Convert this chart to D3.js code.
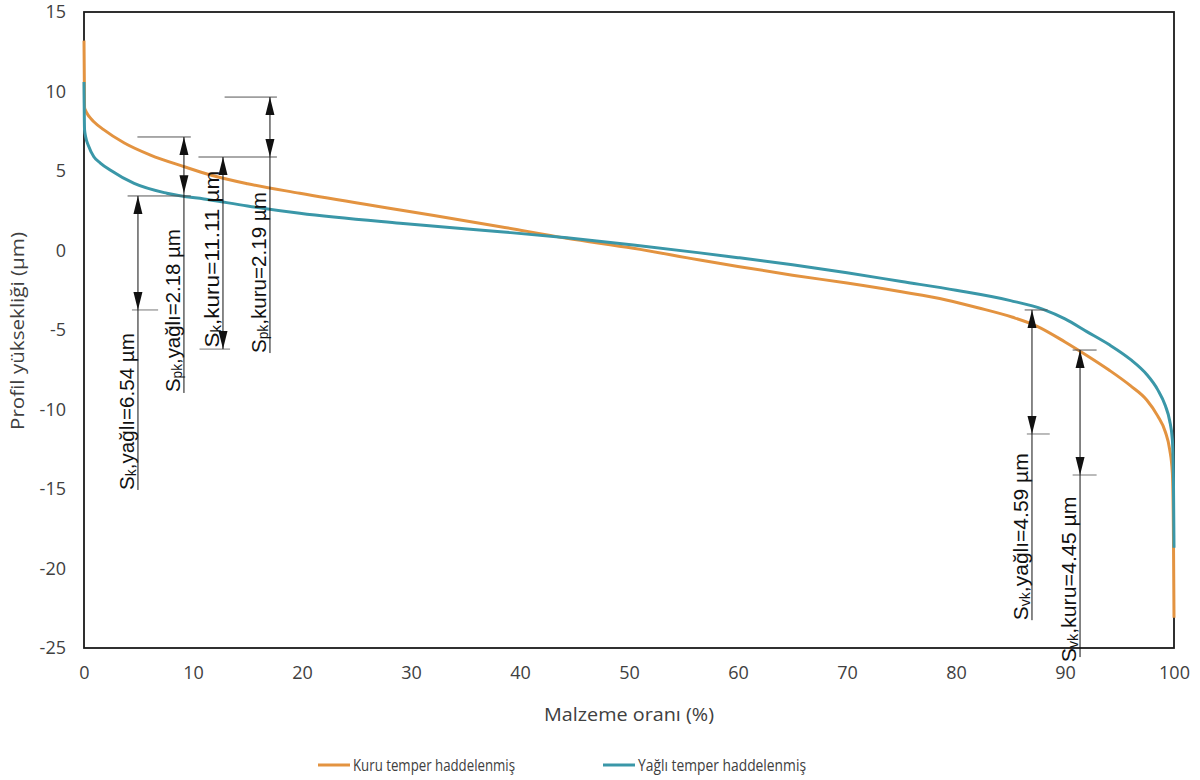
<!DOCTYPE html>
<html>
<head>
<meta charset="utf-8">
<script src="https://cdn.jsdelivr.net/npm/d3@7"></script>
<style>
  body { margin: 0; background: #fff; }
  .tick text { font-family: "Open Sans", sans-serif; font-size: 18px; fill: #404040; }
</style>
</head>
<body>
<div class="chart"></div>
<script>
// Material ratio curves (%, µm)
const kuruX = [0, 0.05, 0.15, 0.3, 0.5, 0.9, 1.8, 3.7, 6.1, 9.2, 11.6, 15, 19.8, 29, 38.2, 44.3, 50.4, 56.5, 60, 65, 70, 75, 79.1, 82, 85.2, 87.4, 90, 92, 94, 96, 97.5, 98.5, 99.2, 99.6, 99.85, 99.95, 100];
const kuruY = [13.2, 9.0, 8.8, 8.6, 8.4, 8.1, 7.6, 6.76, 6.0, 5.27, 4.75, 4.2, 3.6, 2.55, 1.5, 0.77, 0.14, -0.6, -1.0, -1.55, -2.05, -2.6, -3.11, -3.6, -4.2, -4.75, -5.75, -6.6, -7.5, -8.5, -9.4, -10.4, -11.4, -12.5, -14.0, -18, -23.1];
const yagliX = [0, 0.05, 0.15, 0.4, 0.9, 1.5, 2.4, 4.6, 7.6, 11.6, 15, 19.8, 29, 38.2, 44.3, 50.4, 56.5, 60, 65, 70, 75, 80, 85, 88, 90, 92, 94, 96, 97.5, 98.5, 99.2, 99.6, 99.85, 99.95, 100];
const yagliY = [10.6, 7.6, 7.16, 6.6, 5.9, 5.5, 5.06, 4.22, 3.6, 3.18, 2.8, 2.34, 1.71, 1.18, 0.8, 0.35, -0.15, -0.45, -0.9, -1.4, -1.95, -2.5, -3.15, -3.7, -4.3, -5.1, -5.9, -6.85, -7.8, -8.75, -9.75, -10.7, -11.9, -14.5, -18.7];

const xTicks = [0, 10, 20, 30, 40, 50, 60, 70, 80, 90, 100];
const yTicks = [15, 10, 5, 0, -5, -10, -15, -20, -25];

const seriesNames = ["Kuru temper haddelenmiş", "Yağlı temper haddelenmiş"];
const seriesColors = ["#e39340", "#3a97a8"];

// dimension annotations in data units (x in %, heights in µm)
const dims = [
  {sub: "k",  rest: ",yağlı=6.54 µm", x: 4.95,  top: 3.43,  bottom: -3.74,  end: -15.06, label: -15.06, topTick: [4.0, 9.8],  botTick: [4.4, 6.8],  len: 157},
  {sub: "pk", rest: ",yağlı=2.18 µm", x: 9.17,  top: 7.14,  bottom: 3.6,    end: -8.96,  label: -8.9,   topTick: [4.9, 9.8],  botTick: null,        len: 163},
  {sub: "k",  rest: ",kuru=11.11 µm", x: 12.75, top: 5.88,  bottom: -6.2,   end: -6.2,   label: -6.1,   topTick: [10.5, 17.7], botTick: [10.6, 13.4], len: 177},
  {sub: "pk", rest: ",kuru=2.19 µm",  x: 17.06, top: 9.65,  bottom: 5.88,   end: -6.45,  label: -6.45,  topTick: [12.9, 17.7], botTick: null,        len: 161},
  {sub: "vk", rest: ",yağlı=4.59 µm", x: 86.97, top: -3.74, bottom: -11.54, end: -23.25, label: -23.25, topTick: [86.3, 88.4], botTick: [86.5, 88.6], len: 167},
  {sub: "vk", rest: ",kuru=4.45 µm",  x: 91.38, top: -6.26, bottom: -14.12, end: -25.57, label: -25.9,  topTick: [90.7, 92.9], botTick: [90.7, 92.9], len: 166}
];

const margin = {top: 12, left: 84, right: 26, bottom: 132};
const width = 1200 - margin.left - margin.right;
const height = 780 - margin.top - margin.bottom;

const svg = d3.select(".chart").append("svg")
    .attr("width", 1200)
    .attr("height", 780);
const g = svg.append("g")
    .attr("transform", `translate(${margin.left},${margin.top})`);

const xScale = d3.scaleLinear().domain([0, 100]).range([0, width]);
const yScale = d3.scaleLinear().domain([-25, 15]).range([height, 0]);

// axes (labels only, no tick marks), plain hyphen for negatives
const xAxis = d3.axisBottom(xScale).tickValues(xTicks).tickSize(0).tickPadding(18).tickFormat(d => String(d));
g.append("g")
    .attr("class", "axis x-axis")
    .attr("transform", `translate(0,${height})`)
    .call(xAxis)
    .call(a => a.select(".domain").remove());

const yAxis = d3.axisLeft(yScale).tickValues(yTicks).tickSize(0).tickPadding(18).tickFormat(d => String(d));
g.append("g")
    .attr("class", "axis y-axis")
    .call(yAxis)
    .call(a => a.select(".domain").remove());

// frame
g.append("rect")
    .attr("x", 0).attr("y", 0)
    .attr("width", width).attr("height", height)
    .attr("fill", "none")
    .attr("stroke", "#1a1a1a")
    .attr("stroke-width", 1.8);

// curves
const line = d3.line()
    .x(d => xScale(d[0]))
    .y(d => yScale(d[1]))
    .curve(d3.curveMonotoneX);

const series = [
  kuruX.map((x, i) => [x, kuruY[i]]),
  yagliX.map((x, i) => [x, yagliY[i]])
];

g.selectAll(".curve")
    .data(series)
    .enter()
    .append("path")
    .attr("class", "curve")
    .attr("d", line)
    .attr("fill", "none")
    .attr("stroke", (d, i) => seriesColors[i])
    .attr("stroke-width", 3);

// dimension lines
const ann = g.append("g").attr("class", "dims");
const arrowLen = 18, arrowW = 4.5;

dims.forEach(d => {
    const px = xScale(d.x);
    const yt = yScale(d.top), yb = yScale(d.bottom), ye = yScale(d.end);

    ann.append("line")
        .attr("x1", xScale(d.topTick[0])).attr("x2", xScale(d.topTick[1]))
        .attr("y1", yt).attr("y2", yt)
        .attr("stroke", "#555").attr("stroke-width", 1);
    if (d.botTick) {
        ann.append("line")
            .attr("x1", xScale(d.botTick[0])).attr("x2", xScale(d.botTick[1]))
            .attr("y1", yb).attr("y2", yb)
            .attr("stroke", "#777").attr("stroke-width", 1);
    }
    ann.append("line")
        .attr("x1", px).attr("x2", px)
        .attr("y1", yt).attr("y2", ye)
        .attr("stroke", "#111").attr("stroke-width", 1);

    // arrow heads pointing to the two limits
    ann.append("path")
        .attr("d", `M${px},${yt} L${px - arrowW},${yt + arrowLen} L${px + arrowW},${yt + arrowLen} Z`)
        .attr("fill", "#111");
    ann.append("path")
        .attr("d", `M${px},${yb} L${px - arrowW},${yb - arrowLen} L${px + arrowW},${yb - arrowLen} Z`)
        .attr("fill", "#111");

    const t = ann.append("text")
        .attr("transform", `translate(${px - 4},${yScale(d.label)}) rotate(-90)`)
        .attr("font-family", "'Liberation Sans', Arial, sans-serif")
        .attr("font-size", 21)
        .attr("fill", "#111");
    t.append("tspan").text("S");
    t.append("tspan").attr("font-size", 14).attr("dy", 2).text(d.sub);
    t.append("tspan").attr("dy", -2).text(d.rest);
    // squeeze to the measured length of the label
    const w = t.node().getComputedTextLength();
    t.attr("transform", `translate(${px - 4},${yScale(d.label)}) rotate(-90) scale(${d.len / w},1)`);
});

// axis titles
svg.append("text")
    .attr("x", margin.left + width / 2)
    .attr("y", 721)
    .attr("text-anchor", "middle")
    .attr("font-family", "'Open Sans', sans-serif")
    .attr("font-size", 18)
    .attr("textLength", 170)
    .attr("lengthAdjust", "spacingAndGlyphs")
    .attr("fill", "#404040")
    .text("Malzeme oranı (%)");

svg.append("text")
    .attr("transform", "translate(24,331) rotate(-90)")
    .attr("text-anchor", "middle")
    .attr("font-family", "'Open Sans', sans-serif")
    .attr("font-size", 18)
    .attr("textLength", 198)
    .attr("lengthAdjust", "spacingAndGlyphs")
    .attr("fill", "#404040")
    .text("Profil yüksekliği (µm)");

// legend
const legend = svg.append("g").attr("class", "legend");
const legendX = [318, 603];
const legendLen = [162, 168];
legend.selectAll(".legend-line")
    .data(seriesNames)
    .enter()
    .append("line")
    .attr("x1", (d, i) => legendX[i])
    .attr("x2", (d, i) => legendX[i] + 32)
    .attr("y1", 765).attr("y2", 765)
    .attr("stroke", (d, i) => seriesColors[i])
    .attr("stroke-width", 3);
legend.selectAll(".legend-label")
    .data(seriesNames)
    .enter()
    .append("text")
    .attr("x", (d, i) => legendX[i] + 35)
    .attr("y", 765)
    .attr("dy", "0.35em")
    .attr("font-family", "'Open Sans', sans-serif")
    .attr("font-size", 17)
    .attr("textLength", (d, i) => legendLen[i])
    .attr("lengthAdjust", "spacingAndGlyphs")
    .attr("fill", "#404040")
    .text(d => d);
</script>
</body>
</html>
